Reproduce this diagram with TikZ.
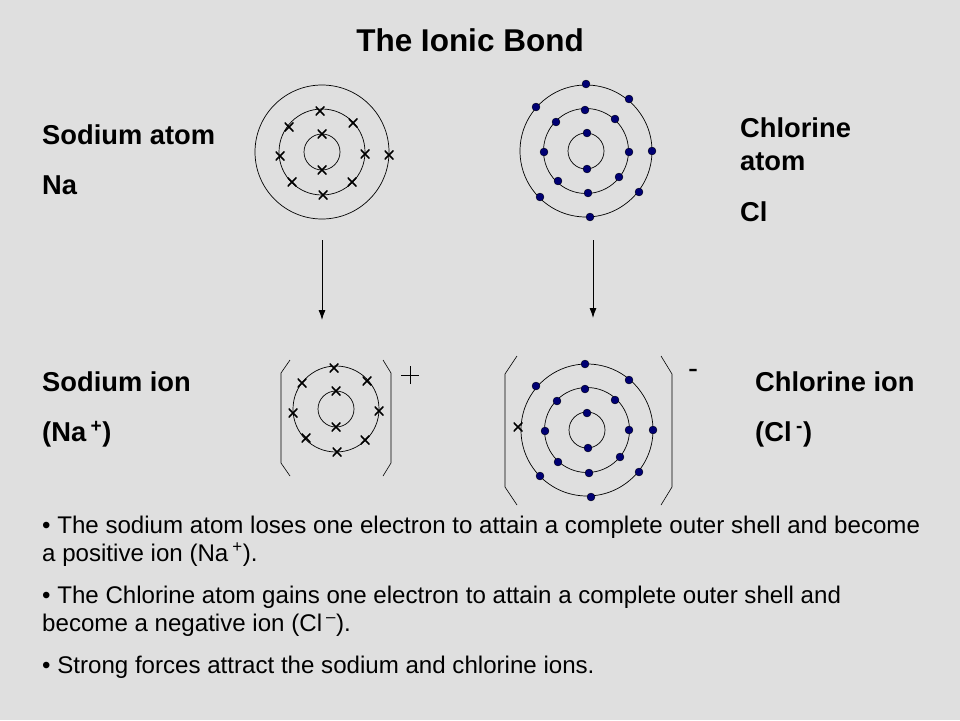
\documentclass[tikz,border=0pt]{standalone}
\usepackage{fontspec}
\usetikzlibrary{arrows.meta}
\setmainfont{Liberation Sans}
\begin{document}
\begin{tikzpicture}[x=1pt,y=-1pt,
  shell/.style={draw=black,line width=0.7pt},
  ecross/.style={path picture={\draw[line width=1.7pt] (path picture bounding box.north west)--(path picture bounding box.south east) (path picture bounding box.north east)--(path picture bounding box.south west);},minimum size=9pt,inner sep=0pt},
  edot/.style={circle,fill=blue!45!black,draw=black,line width=0.3pt,minimum size=8pt,inner sep=0pt},
  lbl/.style={anchor=west,font=\fontsize{27.3}{30}\selectfont\bfseries,inner sep=0pt},
  txt/.style={anchor=west,font=\fontsize{24.1}{26}\selectfont,inner sep=0pt},
  brk/.style={draw=black,line width=0.6pt},
  arr/.style={draw=black,line width=0.9pt,-{Latex[length=10pt,width=7pt]}}]
\fill[gray!25!white] (0,0) rectangle (960,720);
\useasboundingbox (0,0) rectangle (960,720);
\node[font=\fontsize{31.5}{34}\selectfont\bfseries] (title) at (470,40) {The Ionic Bond};
% sodium atom
\coordinate (na) at (322,152);
\draw[shell] (na) circle (18) (na) circle (43) (na) circle (67);
\foreach \p in {(322,134),(322,170),(320,111),(289,127),(353,123),(280,156),(365,154),(292,182),(352,182),(323,195),(389,155)}
  \node[ecross] at \p {};
% chlorine atom
\coordinate (cl) at (586,151);
\draw[shell] (cl) circle (18) (cl) circle (42.5) (cl) circle (66);
\foreach \p in {(587,133),(587,169),(585,110),(556,122),(615,119),(544,152),(629,152),(558,181),(619,177),(588,193),(586,84),(629,99),(536,107),(652,151),(540,197),(639,192),(590,217)}
  \node[edot] at \p {};
% arrows
\coordinate (a1) at (322,240); \coordinate (a2) at (322,320);
\coordinate (b1) at (593,240); \coordinate (b2) at (593,318);
\draw[arr] (a1) -- (a2);
\draw[arr] (b1) -- (b2);
% sodium ion
\coordinate (nai) at (336,409);
\draw[shell] (nai) circle (18) (nai) circle (43);
\foreach \p in {(336,391),(336,427),(334,368),(302,383),(367,381),(293,413),(379,411),(306,438),(365,440),(337,452)}
  \node[ecross] at \p {};
\draw[brk] (290,360) -- (281,373) -- (281,463) -- (290,476);
\draw[brk] (383,360) -- (391,373) -- (391,463) -- (383,476);
\coordinate (pc) at (410,375);
\draw[line width=0.9pt] ([xshift=-9pt]pc) -- ([xshift=9pt]pc) ([yshift=-9pt]pc) -- ([yshift=9pt]pc);
% chlorine ion
\coordinate (cli) at (587,430);
\draw[shell] (cli) circle (18) (cli) circle (42.5) (cli) circle (66);
\foreach \p in {(587,413),(588,448),(585,389),(557,401),(615,400),(545,431),(629,430),(558,462),(620,457),(589,473),(585,364),(629,380),(536,386),(653,430),(540,476),(639,472),(591,497)}
  \node[edot] at \p {};
\node[ecross] at (518,427) {};
\draw[brk] (517,356) -- (505,374) -- (505,487) -- (517,505);
\draw[brk] (661,356) -- (672,374) -- (672,487) -- (661,505);
\node[font=\fontsize{30}{30}\selectfont] (minus) at (693,374) {-};
% labels
\node[lbl] (l1) at (42,135) {Sodium atom};
\node[lbl] (l2) at (42,185) {Na};
\node[lbl] (l3) at (740,128) {Chlorine};
\node[lbl] (l4) at (740,162) {atom};
\node[lbl] (l5) at (740,212) {Cl};
\node[lbl] (l6) at (42,382) {Sodium ion};
\node[lbl] (l7) at (42,434) {(Na\,\textsuperscript{+})};
\node[lbl] (l8) at (755,382) {Chlorine ion};
\node[lbl] (l9) at (755,434) {(Cl\,\textsuperscript{-})};
% bullets
\node[txt] (t1) at (42,527) {• The sodium atom loses one electron to attain a complete outer shell and become};
\node[txt] (t2) at (42,555) {a positive ion (Na\,\textsuperscript{+}).};
\node[txt] (t3) at (42,597) {• The Chlorine atom gains one electron to attain a complete outer shell and};
\node[txt] (t4) at (42,625) {become a negative ion (Cl\,\textsuperscript{–}).};
\node[txt] (t5) at (42,667) {• Strong forces attract the sodium and chlorine ions.};
\end{tikzpicture}
\end{document}
